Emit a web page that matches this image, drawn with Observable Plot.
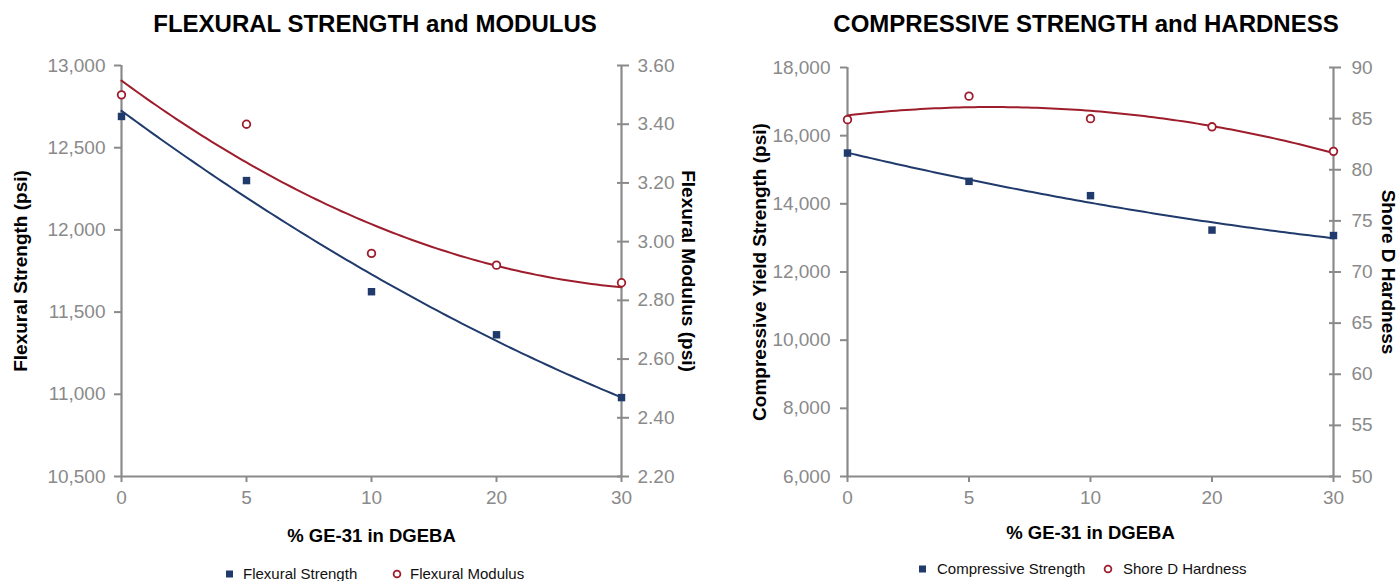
<!DOCTYPE html>
<html>
<head>
<meta charset="utf-8">
<script src="https://cdn.jsdelivr.net/npm/d3@7"></script>
<script src="https://cdn.jsdelivr.net/npm/@observablehq/plot@0.6"></script>
<style>
  html, body { margin: 0; padding: 0; background: #fff; }
  body { width: 1400px; height: 581px; position: relative; overflow: hidden; font-family: "Liberation Sans", Arial, sans-serif; }
  .title { position: absolute; top: 10px; font-size: 24px; font-weight: bold; line-height: 27px; color: #000; text-align: center; white-space: nowrap; }
  .panel { position: absolute; top: 40px; }
  .leg { position: absolute; font-size: 15px; color: #111; line-height: 18px; white-space: nowrap; }
  .sym { position: absolute; }
</style>
</head>
<body>
<div class="title" style="left:75px; width:600px;">FLEXURAL STRENGTH and MODULUS</div>
<div class="title" style="left:786px; width:600px;">COMPRESSIVE STRENGTH and HARDNESS</div>
<div id="left" class="panel" style="left:0px;"></div>
<div id="right" class="panel" style="left:700px;"></div>
<div id="legends"></div>
<script>
// ---------- data ----------
const xLabels = ["0", "5", "10", "20", "30"];          // % GE-31 in DGEBA (category axis)
const flexStrength = [12690, 12300, 11624, 11362, 10980];   // psi
const flexModulus = [3.50, 3.40, 2.96, 2.92, 2.86];         // psi (x10^6)
const compStrength = [15490, 14660, 14240, 13230, 13070];   // psi
const shoreD = [84.9, 87.2, 85.0, 84.2, 81.8];

const flexStrengthTicks = [10500, 11000, 11500, 12000, 12500, 13000];
const flexModulusTicks = [2.2, 2.4, 2.6, 2.8, 3.0, 3.2, 3.4, 3.6];
const compTicks = [6000, 8000, 10000, 12000, 14000, 16000, 18000];
const shoreTicks = [50, 55, 60, 65, 70, 75, 80, 85, 90];

const BLUE = "#1f3a6b";
const RED = "#9e1d2c";
const GRAY = "#8a8a8a";

// ---------- helpers ----------
const idx = xLabels.map((_, i) => i);

// least-squares 2nd order polynomial trendline (like the spreadsheet trendline)
function quadFit(xs, ys) {
  let S = [0, 0, 0, 0, 0], T = [0, 0, 0];
  xs.forEach((x, i) => {
    for (let k = 0; k < 5; k++) S[k] += Math.pow(x, k);
    for (let k = 0; k < 3; k++) T[k] += ys[i] * Math.pow(x, k);
  });
  const M = [[S[0], S[1], S[2]], [S[1], S[2], S[3]], [S[2], S[3], S[4]]];
  const det3 = m => m[0][0]*(m[1][1]*m[2][2]-m[1][2]*m[2][1]) - m[0][1]*(m[1][0]*m[2][2]-m[1][2]*m[2][0]) + m[0][2]*(m[1][0]*m[2][1]-m[1][1]*m[2][0]);
  const D = det3(M);
  const coef = [0, 1, 2].map(c => det3(M.map((row, r) => row.map((v, j) => j === c ? T[r] : v))) / D);
  return x => coef[0] + coef[1] * x + coef[2] * x * x;
}
const grid = d3.range(0, idx[idx.length - 1] + 1e-9, 0.04);

function panel({el, yDomain, y2Domain, y1, y2, y1Ticks, y2Ticks, y1Fmt, y2Fmt, yLabel, y2Label,
                marginLeft, marginRight, marginTop, yLabelDx, y2LabelDx, xLabelDy, lTickPad, rTickPad, rTickIn}) {
  const map2 = v => yDomain[0] + (v - y2Domain[0]) / (y2Domain[1] - y2Domain[0]) * (yDomain[1] - yDomain[0]);
  const unmap2 = v => y2Domain[0] + (v - yDomain[0]) / (yDomain[1] - yDomain[0]) * (y2Domain[1] - y2Domain[0]);
  const f1 = quadFit(idx, y1);
  const f2 = quadFit(idx, y2);
  const pts1 = idx.map(i => ({x: i, y: y1[i]}));
  const pts2 = idx.map(i => ({x: i, y: map2(y2[i])}));
  const fit1 = grid.map(x => ({x, y: f1(x)}));
  const fit2 = grid.map(x => ({x, y: map2(f2(x))}));
  const frameBottom = 476 - 40;
  const marginBottom = 80;
  const chart = Plot.plot({
    width: 700,
    height: frameBottom + marginBottom,
    marginLeft, marginRight, marginTop, marginBottom,
    style: {fontFamily: "'Liberation Sans', Arial, sans-serif", fontSize: "19px", color: GRAY, background: "#fff", overflow: "visible"},
    x: {type: "linear", domain: [idx[0], idx[idx.length - 1]]},
    y: {type: "linear", domain: yDomain},
    marks: [
      Plot.axisY({anchor: "left", ticks: y1Ticks, tickFormat: y1Fmt, tickSize: 7, tickPadding: lTickPad, strokeWidth: 2, label: null}),
      Plot.axisY({anchor: "right", ticks: y2Ticks.map(map2), tickFormat: v => y2Fmt(unmap2(v)), tickSize: 7 + rTickIn, dx: -rTickIn, tickPadding: rTickPad, strokeWidth: 2, label: null}),
      Plot.axisX({anchor: "bottom", ticks: idx, tickFormat: i => xLabels[i], tickSize: 6, tickPadding: 8, strokeWidth: 2, label: null}),
      Plot.ruleY([yDomain[0]], {stroke: GRAY, strokeWidth: 2.2}),
      Plot.ruleX([idx[0], idx[idx.length - 1]], {stroke: GRAY, strokeWidth: 2.2}),
      Plot.line(fit2, {x: "x", y: "y", stroke: RED, strokeWidth: 2}),
      Plot.line(fit1, {x: "x", y: "y", stroke: BLUE, strokeWidth: 2}),
      Plot.dot(pts1, {x: "x", y: "y", symbol: "square", r: 4.2, fill: BLUE, stroke: "none"}),
      Plot.dot(pts2, {x: "x", y: "y", symbol: "circle", r: 3.8, fill: "white", stroke: RED, strokeWidth: 1.8}),
      Plot.text([yLabel], {frameAnchor: "left", textAnchor: "middle", dx: yLabelDx, rotate: -90, fontSize: 19, fontWeight: "bold", fill: "#000"}),
      Plot.text([y2Label], {frameAnchor: "right", textAnchor: "middle", dx: y2LabelDx, rotate: 90, fontSize: 19, fontWeight: "bold", fill: "#000"}),
      Plot.text(["% GE-31 in DGEBA"], {frameAnchor: "bottom", dy: xLabelDy, fontSize: 18.5, fontWeight: "bold", fill: "#000"})
    ]
  });
  document.getElementById(el).appendChild(chart);
}

panel({
  el: "left", yDomain: [10500, 13000], y2Domain: [2.2, 3.6],
  y1: flexStrength, y2: flexModulus, y1Ticks: flexStrengthTicks, y2Ticks: flexModulusTicks,
  y1Fmt: d3.format(","), y2Fmt: d3.format(".2f"),
  yLabel: "Flexural Strength (psi)", y2Label: "Flexural Modulus (psi)",
  marginLeft: 121, marginRight: 79, marginTop: 25,
  yLabelDx: -101, y2LabelDx: 67, xLabelDy: 65, lTickPad: 9, rTickPad: 9, rTickIn: 5
});
panel({
  el: "right", yDomain: [6000, 18000], y2Domain: [50, 90],
  y1: compStrength, y2: shoreD, y1Ticks: compTicks, y2Ticks: shoreTicks,
  y1Fmt: d3.format(","), y2Fmt: d3.format("d"),
  yLabel: "Compressive Yield Strength (psi)", y2Label: "Shore D Hardness",
  marginLeft: 147, marginRight: 67, marginTop: 27,
  yLabelDx: -88, y2LabelDx: 55, xLabelDy: 62, lTickPad: 10, rTickPad: 11, rTickIn: 5
});

// ---------- legends ----------
const legendItems = [
  {label: "Flexural Strength", kind: "square", sx: 225, tx: 243, cy: 574},
  {label: "Flexural Modulus", kind: "circle", sx: 392, tx: 410, cy: 574},
  {label: "Compressive Strength", kind: "square", sx: 918, tx: 937, cy: 569},
  {label: "Shore D Hardness", kind: "circle", sx: 1103, tx: 1123, cy: 569}
];
const lg = d3.select("#legends");
legendItems.forEach(d => {
  const s = lg.append("svg").attr("class", "sym").attr("width", 10).attr("height", 10)
    .style("left", d.sx + "px").style("top", (d.cy - 5) + "px");
  if (d.kind === "square") s.append("rect").attr("x", 1).attr("y", 1.5).attr("width", 7).attr("height", 7).attr("fill", BLUE);
  else s.append("circle").attr("cx", 5).attr("cy", 5).attr("r", 3.4).attr("fill", "white").attr("stroke", RED).attr("stroke-width", 1.8);
  lg.append("div").attr("class", "leg").style("left", d.tx + "px").style("top", (d.cy - 9) + "px").text(d.label);
});
</script>
</body>
</html>
